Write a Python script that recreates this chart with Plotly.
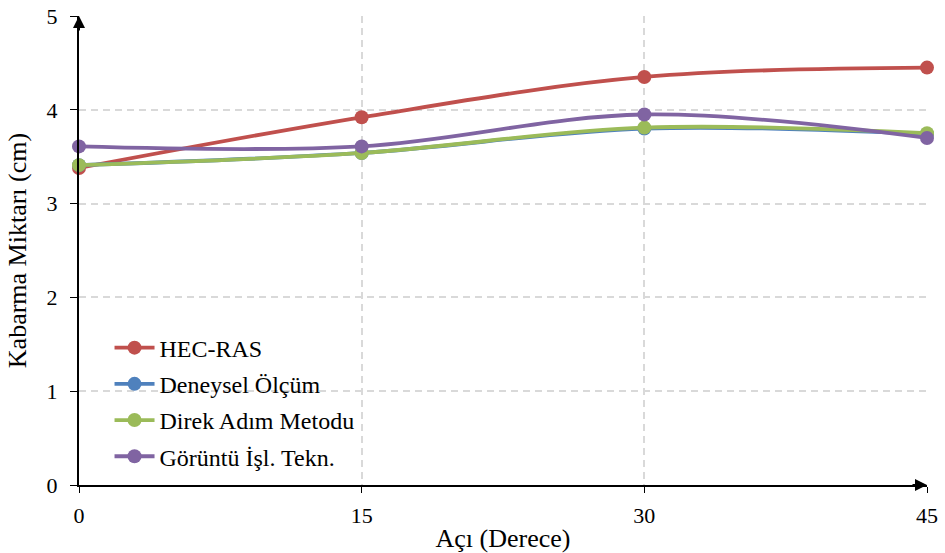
import plotly.graph_objects as go

angles = [0, 15, 30, 45]
hec_ras = [3.38, 3.92, 4.35, 4.45]
deneysel = [3.41, 3.54, 3.80, 3.74]
direk = [3.41, 3.54, 3.81, 3.75]
goruntu = [3.61, 3.61, 3.95, 3.70]

names = ["HEC-RAS", "Deneysel Ölçüm", "Direk Adım Metodu", "Görüntü İşl. Tekn."]
colors = ["#C0504D", "#4F81BD", "#9BBB59", "#8064A2"]
series = [hec_ras, deneysel, direk, goruntu]

fig = go.Figure()
for n, c, s in zip(names, colors, series):
    fig.add_trace(go.Scatter(
        x=angles, y=s, name=n, mode="lines+markers",
        line=dict(color=c, width=3.8, shape="spline", smoothing=1.0),
        marker=dict(color=c, size=14),
        cliponaxis=False, legendgroup=n,
    ))

font = "Liberation Serif, Times New Roman, serif"
fig.update_layout(
    width=945, height=553,
    margin=dict(l=79, r=18, t=16, b=68, autoexpand=False),
    paper_bgcolor="white", plot_bgcolor="white",
    font=dict(family=font, size=22, color="black"),
    showlegend=True,
    legend=dict(x=0.036, y=0.34, xanchor="left", yanchor="top",
                bgcolor="rgba(0,0,0,0)", font=dict(size=24),
                itemwidth=40, tracegroupgap=2),
    xaxis=dict(range=[0, 45], tickvals=[0, 15, 30, 45], automargin=False,
               showgrid=True, gridcolor="#d9d9d9", griddash="7px,5px", gridwidth=1.5,
               showline=True, linecolor="black", linewidth=2,
               ticks="outside", ticklen=6, tickcolor="black",
               zeroline=False, ticklabelstandoff=4,
               title=dict(text="Açı (Derece)", standoff=4)),
    yaxis=dict(range=[0, 5], tickvals=[0, 1, 2, 3, 4, 5], automargin=False,
               showgrid=True, gridcolor="#d9d9d9", griddash="7px,5px", gridwidth=1.5,
               showline=True, linecolor="black", linewidth=2,
               ticks="outside", ticklen=7, tickcolor="black",
               zeroline=False, ticklabelstandoff=8,
               title=dict(text="Kabarma Miktarı (cm)", standoff=12)),
)

# axis arrows
fig.add_annotation(x=0, y=5, xref="x", yref="y", ax=0, ay=16,
                   showarrow=True, arrowhead=2, arrowsize=1.2, arrowwidth=2, arrowcolor="black", text="")
fig.add_annotation(x=45, y=0, xref="x", yref="y", ax=-16, ay=0,
                   showarrow=True, arrowhead=2, arrowsize=1.2, arrowwidth=2, arrowcolor="black", text="")

fig.write_html("out.html", config={"displayModeBar": False},
               post_script="document.body.style.margin='0';document.body.style.overflow='hidden';")
